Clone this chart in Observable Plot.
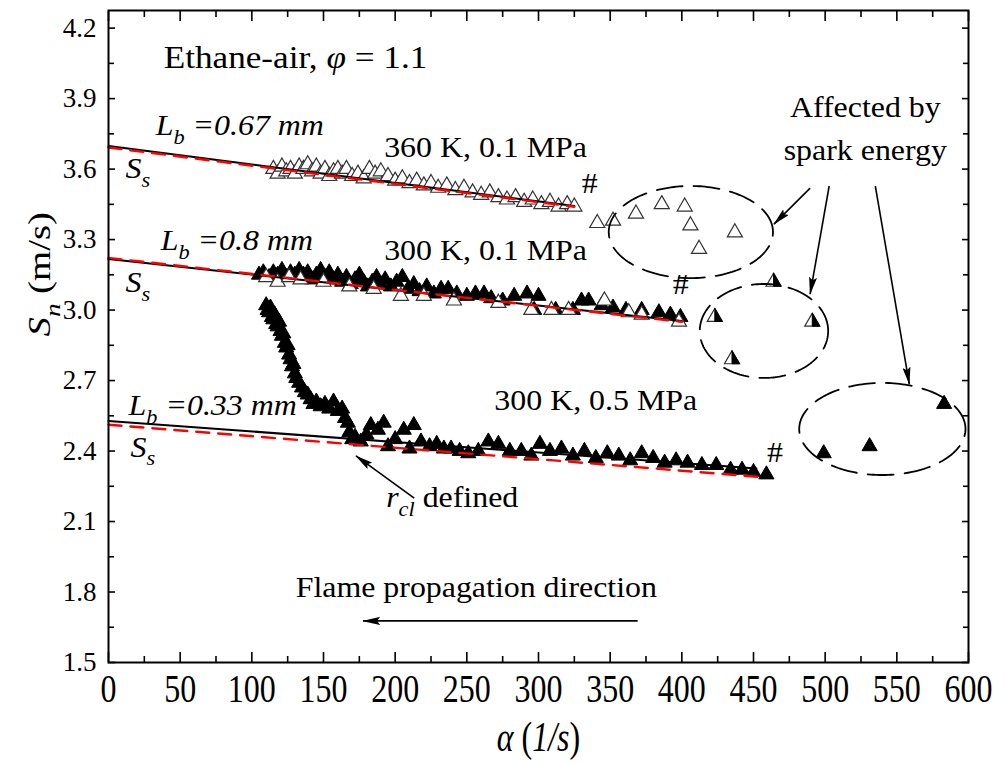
<!DOCTYPE html>
<html>
<head>
<meta charset="utf-8">
<script src="https://cdn.jsdelivr.net/npm/d3@7"></script>
<script src="https://cdn.jsdelivr.net/npm/@observablehq/plot@0.6"></script>
<style>
  body { margin: 0; background: #fff; }
  #chart svg { font-family: "Liberation Serif", "Times New Roman", serif; }
</style>
</head>
<body>
<div id="chart"></div>
<script>
// Stretch rate α (1/s) vs. flame speed Sn (m/s), ethane-air, φ = 1.1

// 360 K, 0.1 MPa (open triangles)
const open360 = [[115,3.60],[118,3.58],[121,3.61],[124,3.59],[127,3.60],[130,3.58],[133,3.61],[136,3.60],[139,3.62],[142,3.59],[145,3.61],[148,3.58],[151,3.60],[154,3.57],[157,3.59],[160,3.60],[163,3.58],[166,3.60],[170,3.57],[174,3.58],[178,3.56],[182,3.60],[186,3.58],[190,3.59],[195,3.57],[200,3.55],[205,3.56],[210,3.54],[215,3.55],[220,3.53],[225,3.54],[230,3.52],[236,3.53],[242,3.51],[248,3.52],[254,3.50],[260,3.49],[266,3.50],[272,3.48],[278,3.47],[284,3.48],[290,3.46],[296,3.47],[302,3.45],[308,3.46],[314,3.44],[320,3.45],[325,3.44]];
const spark360 = [[341,3.37],[352,3.38],[368,3.41],[386,3.45],[402,3.44],[406,3.36],[412,3.26],[437,3.33]];

// 300 K, 0.1 MPa (filled and open triangles, two runs)
const filled300lo = [[105,3.15],[108,3.16],[112,3.14],[115,3.16],[118,3.15],[121,3.17],[124,3.14],[127,3.16],[130,3.15],[133,3.17],[136,3.15],[139,3.16],[142,3.13],[145,3.15],[148,3.17],[151,3.14],[154,3.16],[157,3.13],[160,3.15],[163,3.12],[166,3.14],[169,3.11],[172,3.13],[175,3.15],[178,3.12],[181,3.10],[184,3.12],[187,3.14],[190,3.11],[193,3.13],[197,3.10],[201,3.12],[205,3.14],[209,3.09],[213,3.11],[217,3.08],[222,3.10],[227,3.07],[232,3.09],[237,3.09],[243,3.07],[250,3.06],[256,3.07],[262,3.07],[267,3.05],[275,3.04],[283,3.06],[292,3.07],[297,3.00],[300,3.06],[312,3.00],[324,3.00],[330,3.04],[335,3.04],[344,3.02],[352,3.01],[361,3.00],[372,3.00],[384,2.99],[392,2.98],[399,2.97]];
const open300lo = [[110,3.14],[118,3.12],[126,3.14],[134,3.13],[150,3.12],[168,3.10],[185,3.09],[204,3.06],[220,3.06],[241,3.04],[272,3.03],[295,3.00],[309,3.00],[321,3.00],[346,3.04],[363,2.99],[372,2.98],[398,2.95]];
const spark300lo = [[464,3.12],[423,2.97],[491,2.95],[435,2.79]];

// 300 K, 0.5 MPa (filled triangles)
const filled300hi = [[110,3.02],[111,3.00],[112,2.99],[113,3.01],[114,2.97],[115,2.96],[116,2.98],[117,2.94],[118,2.93],[119,2.95],[120,2.91],[121,2.89],[122,2.90],[123,2.86],[124,2.84],[125,2.85],[126,2.81],[127,2.79],[128,2.76],[129,2.77],[130,2.73],[131,2.71],[133,2.69],[135,2.67],[137,2.65],[139,2.64],[141,2.62],[143,2.60],[145,2.61],[148,2.59],[151,2.60],[154,2.58],[157,2.61],[160,2.57],[163,2.58],[165,2.54],[167,2.52],[168,2.48],[170,2.45],[172,2.46],[176,2.44],[180,2.47],[183,2.51],[188,2.49],[192,2.52],[195,2.42],[200,2.45],[206,2.49],[210,2.41],[213,2.51],[218,2.44],[224,2.42],[229,2.43],[234,2.41],[239,2.41],[245,2.40],[251,2.39],[258,2.40],[265,2.44],[272,2.43],[280,2.40],[288,2.40],[295,2.38],[301,2.43],[308,2.40],[316,2.41],[324,2.38],[332,2.40],[340,2.37],[348,2.39],[356,2.38],[364,2.36],[372,2.39],[380,2.37],[388,2.35],[396,2.36],[404,2.35],[414,2.34],[424,2.34],[434,2.32],[442,2.32],[450,2.31],[459,2.30]];
const spark300hi = [[499,2.39],[531,2.42],[583,2.60]];

// Linear extrapolations to zero stretch (α, Sn): solid fit and dashed fit
const fitSolid = {
  "360K": [[0,3.698],[325,3.443]],
  "300K-0.1": [[0,3.217],[400,2.953]],
  "300K-0.5": [[0,2.528],[452,2.326]]
};
const fitDashed = {
  "360K": [[0,3.692],[325,3.440]],
  "300K-0.1": [[0,3.222],[400,2.950]],
  "300K-0.5": [[0,2.512],[458,2.288]]
};

// Dashed ellipses around spark-affected points: [cx, cy, rx, ry] in data units
const ellipses = [[406.3,3.332,57.3,0.196],[457.3,2.911,44.8,0.200],[539.9,2.494,58.0,0.196]];

// Arrows: [x1, y1, x2, y2]
const arrows = [
  [489.5,3.519,464.3,3.366],
  [502.8,3.528,489.5,3.068],
  [535.0,3.528,558.7,2.685],
  [213.3,2.200,172.7,2.379],
  [369.2,1.677,177.6,1.677]
];

// Annotations: [x, y, text, anchor, size]; *…* italic, _{…} italic subscript
const notes = [
  [38.5,4.072,"Ethane-air, *φ* = 1.1","start",32],
  [32.9,3.783,"*L*_{b}* =0.67 mm*","start",29],
  [11.9,3.600,"*S*_{s}","start",29],
  [192.3,3.689,"360 K, 0.1 MPa","start",29],
  [335.7,3.536,"#","middle",29],
  [36.4,3.294,"*L*_{b}* =0.8 mm*","start",29],
  [192.3,3.251,"300 K, 0.1 MPa","start",29],
  [11.9,3.115,"*S*_{s}","start",29],
  [399.3,3.110,"#","middle",29],
  [14.0,2.591,"*L*_{b}* =0.33 mm*","start",29],
  [269.2,2.613,"300 K, 0.5 MPa","start",29],
  [15.4,2.416,"*S*_{s}","start",29],
  [465.0,2.391,"#","middle",29],
  [193.7,2.200,"*r*_{cl} defined","start",29],
  [256.6,1.817,"Flame propagation direction","middle",29],
  [528.0,3.860,"Affected by","middle",29],
  [528.0,3.677,"spark energy","middle",29]
];

const xMajor = d3.range(0, 601, 50);
const xMinor = d3.range(25, 600, 50);
const yMajor = d3.range(0, 10).map(i => +(1.5 + 0.3 * i).toFixed(2));
const yMinor = d3.range(0, 9).map(i => +(1.65 + 0.3 * i).toFixed(2));

const P = d => d[0], Q = d => d[1];

// half-filled triangle (right half) matching d3.symbolTriangle geometry
const halfTriangle = {
  draw(context, size) {
    const s3 = Math.sqrt(3);
    const y = -Math.sqrt(size / (s3 * 3));
    context.moveTo(0, y * 2);
    context.lineTo(-s3 * y, -y);
    context.lineTo(0, -y);
    context.closePath();
  }
};

const ellipsePts = ellipses.flatMap(([cx, cy, rx, ry], i) =>
  d3.range(0, 361, 2).map(a => ({id: i, x: cx + rx * Math.cos(a * Math.PI / 180), y: cy + ry * Math.sin(a * Math.PI / 180)})));

const lineFrom = (obj) => Object.entries(obj).flatMap(([k, pts]) => pts.map(p => ({k, x: p[0], y: p[1]})));

const R = 5.6;
const tickOpts = {tickFormat: () => "", label: null, strokeWidth: 1.6};
const noteOpts = {x: d => d[0], y: d => d[1], text: d => d[2], fill: "#000", className: "rich"};
const noteMarks = [["start", 29], ["start", 32], ["middle", 29]].map(([a, s]) =>
  Plot.text(notes, {...noteOpts, filter: d => d[3] === a && d[4] === s, textAnchor: a, fontSize: s}));

const chart = Plot.plot({
  width: 1005,
  height: 764,
  marginLeft: 108,
  marginRight: 37,
  marginTop: 10,
  marginBottom: 102,
  x: {domain: [0, 600]},
  y: {domain: [1.5, 4.275]},
  style: {background: "#fff", color: "#000", fontFamily: "Liberation Serif, serif"},
  marks: [
    // points
    Plot.dot(open360, {x: P, y: Q, symbol: "triangle", r: R, fill: "#fff", stroke: "#333", strokeWidth: 1.2}),
    Plot.dot(spark360, {x: P, y: Q, symbol: "triangle", r: R, fill: "#fff", stroke: "#333", strokeWidth: 1.2}),
    Plot.dot(filled300lo, {x: P, y: Q, symbol: "triangle", r: R, fill: "#000", stroke: "#000", strokeWidth: 1}),
    Plot.dot(open300lo, {x: P, y: Q, symbol: "triangle", r: R, fill: "#fff", stroke: "#333", strokeWidth: 1.2}),
    Plot.dot(spark300lo, {x: P, y: Q, symbol: "triangle", r: R, fill: "#fff", stroke: "#333", strokeWidth: 1.2}),
    Plot.dot(spark300lo, {x: P, y: Q, symbol: halfTriangle, r: R, fill: "#000", stroke: "#000", strokeWidth: 1}),
    Plot.dot(filled300hi, {x: P, y: Q, symbol: "triangle", r: R, fill: "#000", stroke: "#000", strokeWidth: 1}),
    Plot.dot(spark300hi, {x: P, y: Q, symbol: "triangle", r: R, fill: "#000", stroke: "#000", strokeWidth: 1}),
    // fits
    Plot.line(lineFrom(fitSolid), {x: "x", y: "y", z: "k", stroke: "#000", strokeWidth: 2}),
    Plot.line(lineFrom(fitDashed), {x: "x", y: "y", z: "k", stroke: "#f00", strokeWidth: 2.4, strokeDasharray: "13,9"}),
    // ellipses
    Plot.line(ellipsePts, {x: "x", y: "y", z: "id", stroke: "#000", strokeWidth: 1.8, strokeDasharray: "26,11"}),
    // arrows
    Plot.link(arrows, {x1: d => d[0], y1: d => d[1], x2: d => d[2], y2: d => d[3], stroke: "#000", strokeWidth: 1.6, className: "arrow"}),
    // annotations
    ...noteMarks,
    // frame and ticks (all four sides, pointing inward)
    Plot.frame({stroke: "#000", strokeWidth: 2}),
    Plot.axisX(xMajor, {anchor: "bottom", tickSize: -10, ...tickOpts}),
    Plot.axisX(xMinor, {anchor: "bottom", tickSize: -6, ...tickOpts}),
    Plot.axisX(xMajor, {anchor: "top", tickSize: -10, ...tickOpts}),
    Plot.axisX(xMinor, {anchor: "top", tickSize: -6, ...tickOpts}),
    Plot.axisY(yMajor, {anchor: "left", tickSize: -7, ...tickOpts}),
    Plot.axisY(yMinor, {anchor: "left", tickSize: -6, ...tickOpts}),
    Plot.axisY(yMajor, {anchor: "right", tickSize: -7, ...tickOpts}),
    Plot.axisY(yMinor, {anchor: "right", tickSize: -6, ...tickOpts}),
    // tick labels
    Plot.axisX(xMajor, {anchor: "bottom", tickSize: 0, tickPadding: 10, fontSize: 32, label: null, className: "xtl"}),
    Plot.axisY(yMajor, {anchor: "left", tickSize: 0, tickPadding: 12, fontSize: 27, label: null, tickFormat: d3.format(".1f"), className: "ytl"}),
    // axis titles
    Plot.text(["*S*_{n} (m/s)"], {frameAnchor: "left", dx: -68, rotate: -90, fontSize: 31, fill: "#000", className: "richy"}),
    Plot.text(["*α* (*1/s*)"], {frameAnchor: "bottom", dy: 88, fontSize: 32, fill: "#000", className: "richx"})
  ]
});

document.getElementById("chart").appendChild(chart);

const svg = d3.select(chart);

// inline markup → tspans (italic, subscripts)
svg.selectAll("g.rich text, g.richy text, g.richx text").each(function () {
  const src = this.textContent;
  const fs = parseFloat(getComputedStyle(this).fontSize) || 29;
  const el = d3.select(this);
  el.text(null);
  const parts = src.split(/(_\{[^}]*\}|\*[^*]*\*)/).filter(s => s.length);
  let shifted = false;
  for (const p of parts) {
    const t = el.append("tspan");
    if (p.startsWith("_{")) {
      t.text(p.slice(2, -1)).attr("font-style", "italic").attr("font-size", fs * 0.7).attr("dy", fs * 0.3);
      shifted = true;
    } else {
      if (p.startsWith("*")) t.text(p.slice(1, -1)).attr("font-style", "italic");
      else t.text(p);
      if (shifted) { t.attr("dy", -fs * 0.3); shifted = false; }
    }
  }
});

// typeface proportions of the serif lettering
const stretch = (sel, sx, sy) => svg.selectAll(sel).each(function () {
  this.setAttribute("transform", (this.getAttribute("transform") || "") + ` scale(${sx},${sy})`);
});
stretch("g.rich text", 1.1, 1);
stretch("g.richy text", 1.25, 1);
stretch("g.richx text", 1, 1.3);
stretch("g.xtl text", 1, 1.28);

// filled arrowheads
const defs = svg.append("defs");
defs.append("marker")
  .attr("id", "ahead").attr("viewBox", "0 0 18 8").attr("refX", 17).attr("refY", 4)
  .attr("markerWidth", 18).attr("markerHeight", 8).attr("markerUnits", "userSpaceOnUse").attr("orient", "auto")
  .append("path").attr("d", "M0,0L18,4L0,8L3,4Z").attr("fill", "#000");
svg.selectAll("g.arrow path").attr("marker-end", "url(#ahead)");
</script>
</body>
</html>
